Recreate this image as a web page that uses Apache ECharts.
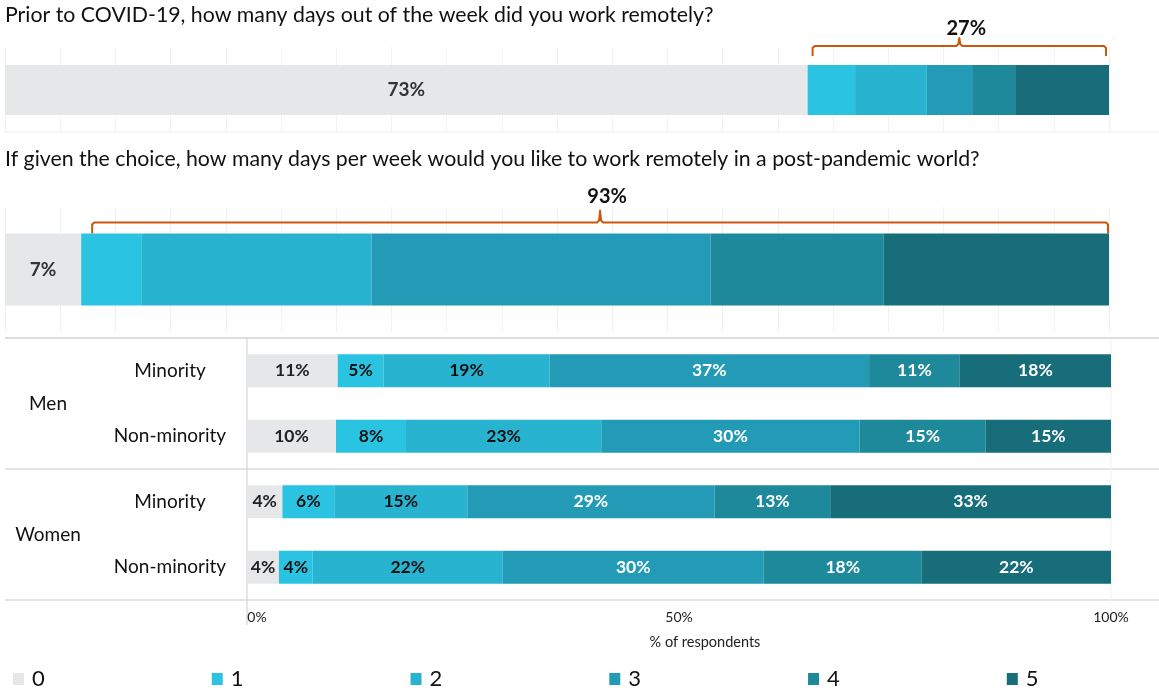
<!DOCTYPE html>
<html>
<head>
<meta charset="utf-8">
<script src="https://cdn.jsdelivr.net/npm/echarts@6/dist/echarts.min.js"></script>
<style>
  html, body { margin: 0; padding: 0; background: #ffffff; }
  #chart { width: 1159px; height: 691px; }
</style>
</head>
<body>
<div id="chart"></div>
<script>
// ---------------- DATA ----------------
const segmentNames = ['0', '1', '2', '3', '4', '5'];
const priorTitle = 'Prior to COVID-19, how many days out of the week did you work remotely?';
const choiceTitle = 'If given the choice, how many days per week would you like to work remotely in a post-pandemic world?';
// share of respondents by number of remote days (0..5)
const priorValues = [72.7, 4.3, 6.5, 4.1, 3.9, 8.5];
const choiceValues = [6.9, 5.5, 20.8, 30.7, 15.7, 20.4];
// breakdown by gender / minority status
const rowCategories = ['Minority', 'Non-minority', 'Minority', 'Non-minority'];
const groupNames = ['Men', 'Women'];
const days0 = [10.5, 10.3, 4.1, 3.7];
const days1 = [5.3, 8.1, 6.0, 3.9];
const days2 = [19.2, 22.6, 15.4, 22.0];
const days3 = [37.0, 29.9, 28.6, 30.2];
const days4 = [10.5, 14.6, 13.4, 18.3];
const days5 = [17.5, 14.5, 32.5, 21.9];
const xTicks = [0, 50, 100];
const axisTitle = '% of respondents';

// ---------------- STYLE ----------------
const FONT = 'Lato, "Open Sans", sans-serif';
const colors = ['#e6e7e9', '#2bc3e2', '#28b3d1', '#239bb6', '#1d899a', '#186d7b'];
const labelColors = ['#222222', '#111111', '#111111', '#ffffff', '#ffffff', '#ffffff'];
const bracketColor = '#c9580f';
const lowerRows = [days0, days1, days2, days3, days4, days5];

const chart = echarts.init(document.getElementById('chart'), null, { renderer: 'canvas' });

function pct(v) { return Math.round(v) + '%'; }

const series = [];
// top panel (grid 0)
segmentNames.forEach((name, i) => {
  series.push({
    name, type: 'bar', stack: 'prior', xAxisIndex: 0, yAxisIndex: 0,
    barWidth: 50, data: [priorValues[i]],
    itemStyle: { color: colors[i] },
    label: { show: i === 0, position: 'inside', formatter: p => pct(p.value),
      color: '#333', fontSize: 19, fontWeight: 'bold', fontFamily: FONT },
    emphasis: { disabled: true }, animation: false
  });
});
// second panel (grid 1)
segmentNames.forEach((name, i) => {
  series.push({
    name, type: 'bar', stack: 'choice', xAxisIndex: 1, yAxisIndex: 1,
    barWidth: 72, data: [choiceValues[i]],
    itemStyle: { color: colors[i] },
    label: { show: i === 0, position: 'inside', formatter: p => pct(p.value),
      color: '#333', fontSize: 19, fontWeight: 'bold', fontFamily: FONT },
    emphasis: { disabled: true }, animation: false
  });
});
// lower panel (grid 2)
segmentNames.forEach((name, i) => {
  series.push({
    name, type: 'bar', stack: 'rows', xAxisIndex: 2, yAxisIndex: 2,
    barWidth: 33, data: lowerRows[i],
    itemStyle: { color: colors[i] },
    label: { show: true, position: 'inside', formatter: p => pct(p.value),
      color: labelColors[i], fontSize: 17.5, fontWeight: 'bold', fontFamily: FONT },
    emphasis: { disabled: true }, animation: false
  });
});

// brackets over the "remote" share
function bracketSeries(values, xIdx, yIdx, cfg) {
  const start = values[0];
  const remote = values.slice(1).reduce((a, b) => a + b, 0);
  return {
    type: 'custom', xAxisIndex: xIdx, yAxisIndex: yIdx, silent: true, animation: false,
    encode: { x: [0, 1], y: 2 },
    data: [[start, start + remote, 0, remote]],
    renderItem(params, api) {
      const a = api.coord([api.value(0), 0]);
      const b = api.coord([api.value(1), 0]);
      const l = a[0] + cfg.insetL, r = b[0] - cfg.insetR;
      const y = a[1] - cfg.barHalf - cfg.above;
      const m = (l + r) / 2;
      return {
        type: 'group',
        children: [
          { type: 'polyline',
            shape: { points: [[l, y + cfg.drop], [l, y + 2], [l + 2, y], [m - 3, y], [m - 1, y - 2], [m, y - cfg.tick], [m + 1, y - 2], [m + 3, y], [r - 2, y], [r, y + 2], [r, y + cfg.drop]] },
            style: { stroke: bracketColor, lineWidth: 2, fill: null, lineJoin: 'round' } },
          { type: 'text',
            style: { text: pct(api.value(3)), x: m + 7, y: y - cfg.labelGap, align: 'center', verticalAlign: 'middle',
              fill: '#111', fontSize: 20, fontWeight: 'bold', fontFamily: FONT } }
        ]
      };
    }
  };
}
series.push(bracketSeries(priorValues, 0, 0, { insetL: 5, insetR: 3, barHalf: 25, above: 19, drop: 10, tick: 8, labelGap: 17 }));
series.push(bracketSeries(choiceValues, 1, 1, { insetL: 11, insetR: 1, barHalf: 36, above: 11, drop: 11, tick: 12, labelGap: 26 }));

const topX = {
  type: 'value', min: 0, max: 100, interval: 5,
  axisLabel: { show: false }, axisLine: { show: false }, axisTick: { show: false },
  splitLine: { show: true, lineStyle: { color: '#f1f1f1', width: 1 } }
};

const option = {
  backgroundColor: '#ffffff',
  animation: false,
  textStyle: { fontFamily: FONT },
  title: [
    { text: priorTitle, left: 5, top: 5, padding: 0, textStyle: { fontSize: 21.3, fontWeight: 'normal', color: '#111', fontFamily: FONT } },
    { text: choiceTitle, left: 5, top: 149, padding: 0, textStyle: { fontSize: 21.3, fontWeight: 'normal', color: '#111', fontFamily: FONT } }
  ],
  legend: {
    data: segmentNames, left: 13, top: 668, padding: 0, icon: 'rect', itemWidth: 11, itemHeight: 12, itemGap: 167,
    selectedMode: false,
    textStyle: { fontSize: 22, color: '#111', fontFamily: FONT, padding: [0, 0, 0, 3] }
  },
  grid: [
    { left: 5, right: 50, top: 47, height: 86 },
    { left: 5, right: 50, top: 207, height: 125 },
    { left: 247, right: 48, top: 338, height: 262 }
  ],
  xAxis: [
    Object.assign({ gridIndex: 0 }, topX),
    Object.assign({ gridIndex: 1 }, topX),
    {
      gridIndex: 2, type: 'value', min: 0, max: 100, interval: 50,
      axisLine: { show: false }, axisTick: { show: false }, splitLine: { show: false },
      axisLabel: {
        margin: 10, color: '#222', fontSize: 14, fontFamily: FONT,
        formatter: v => (v === xTicks[0] ? '{first|' + v + '%}' : v + '%'),
        rich: { first: { padding: [0, 0, 0, 20], fontSize: 14, color: '#222', fontFamily: FONT } }
      },
      name: axisTitle, nameLocation: 'middle', nameGap: 35,
      nameTextStyle: { fontSize: 14.5, color: '#222', fontFamily: FONT, padding: [0, 0, 0, 52] }
    }
  ],
  yAxis: [
    { gridIndex: 0, type: 'category', data: ['prior'], show: false },
    { gridIndex: 1, type: 'category', data: ['choice'], show: false },
    {
      gridIndex: 2, type: 'category', data: rowCategories, inverse: true, position: 'left',
      axisLine: { show: false }, axisTick: { show: false },
      axisLabel: { margin: 77, align: 'center', fontSize: 19, color: '#111', fontFamily: FONT, interval: 0 }
    },
    {
      gridIndex: 2, type: 'category', data: groupNames, inverse: true, position: 'left', offset: 0,
      axisLine: { show: false }, axisTick: { show: false },
      axisLabel: { margin: 199, align: 'center', fontSize: 19, color: '#111', fontFamily: FONT, interval: 0 }
    }
  ],
  series
};

chart.setOption(option);

// decorative separators positioned from the axes
function drawSeparators() {
  const x0 = chart.convertToPixel({ xAxisIndex: 2 }, 0);
  const x100 = chart.convertToPixel({ xAxisIndex: 2 }, 100);
  const cMen = chart.convertToPixel({ yAxisIndex: 3 }, groupNames[0]);
  const cWomen = chart.convertToPixel({ yAxisIndex: 3 }, groupNames[1]);
  const band = cWomen - cMen;
  const top = cMen - band / 2, mid = (cMen + cWomen) / 2, bottom = cWomen + band / 2;
  const topBarCenter = chart.convertToPixel({ yAxisIndex: 0 }, 'prior');
  const topPanelBottom = topBarCenter + 42;
  const W = 1159;
  const line = (x1, y1, x2, y2, color, w) => ({
    type: 'line', silent: true, z: 0,
    shape: { x1, y1, x2, y2 }, style: { stroke: color, lineWidth: w }
  });
  chart.setOption({
    graphic: [
      line(5, topPanelBottom, W, topPanelBottom, '#eeeeee', 1),
      line(5, top, W, top, '#dddddd', 2),
      line(5, mid, W, mid, '#dddddd', 1.5),
      line(5, bottom, W, bottom, '#dddddd', 1.5),
      line(x0, top, x0, bottom + 25, '#cccccc', 1),
      line(x100, top, x100, bottom + 3, '#f1f1f1', 1)
    ]
  });
}
drawSeparators();
</script>
</body>
</html>
